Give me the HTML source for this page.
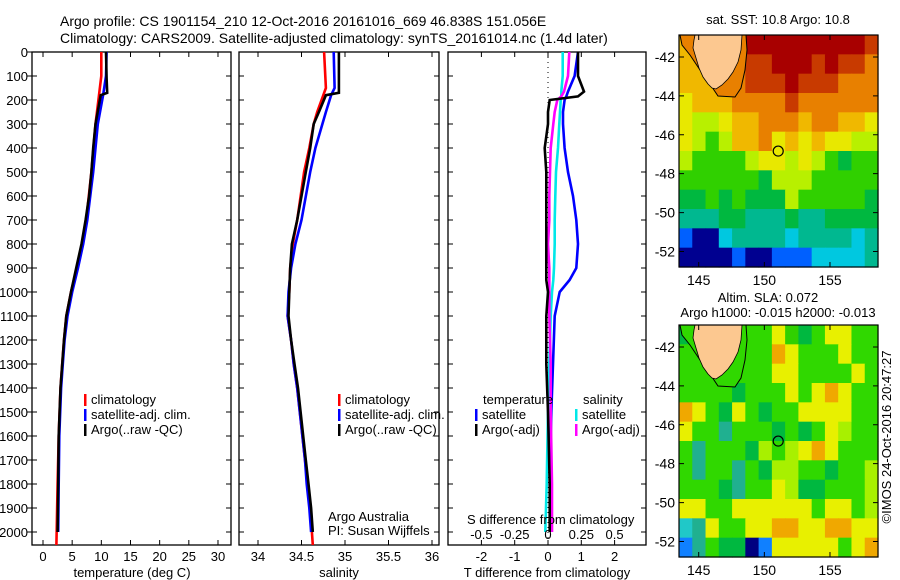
<!DOCTYPE html>
<html><head><meta charset="utf-8">
<style>
html,body{margin:0;padding:0;background:#fff;}
svg{display:block;font-family:"Liberation Sans",sans-serif;}
text{fill:#000;}
</style></head>
<body>
<svg id="fig" width="900" height="580" viewBox="0 0 900 580" xmlns="http://www.w3.org/2000/svg">
<text x="60" y="26" font-size="14">Argo profile: CS 1901154_210 12-Oct-2016 20161016_669 46.838S 151.056E</text>
<text x="60" y="43" font-size="14">Climatology: CARS2009. Satellite-adjusted climatology: synTS_20161014.nc (1.4d later)</text>
<g id="g1"></g>
<g id="g2"></g>
<g id="g3"></g>
<g id="m1"></g>
<g id="m2"></g>
<text x="778" y="24" font-size="13" text-anchor="middle">sat. SST: 10.8 Argo: 10.8</text>
<text x="768" y="302" font-size="13" text-anchor="middle">Altim. SLA: 0.072</text>
<text x="778" y="317" font-size="13" text-anchor="middle">Argo h1000: -0.015 h2000: -0.013</text>
<text transform="translate(891,437) rotate(-90)" font-size="13" text-anchor="middle">©IMOS 24-Oct-2016 20:47:27</text>
</svg>
<script>
// ---- data ----
const tClimDepth=[0,100,180,300,500,700,800,900,1000,1100,1200,1300,1400,1600,1800,2054];
const tClim=[10.0,10.0,9.6,9.0,8.3,7.4,6.7,5.8,4.8,4.0,3.6,3.3,3.0,2.7,2.5,2.3];
const tSatDepth=[0,100,180,300,500,700,800,900,1000,1100,1200,1300,1400,1600,1800,2000];
const tSat=[10.9,10.8,10.3,9.4,8.6,7.6,6.9,6.0,5.0,4.2,3.7,3.4,3.1,2.8,2.7,2.6];
const tArgoDepth=[0,110,170,180,300,400,500,600,700,800,900,1000,1100,1200,1400,1600,1800,2000];
const tArgo=[10.8,10.9,11.0,9.9,9.0,8.6,8.3,7.9,7.3,6.6,5.7,4.8,4.0,3.6,3.0,2.7,2.6,2.5];
const sClimDepth=[0,150,180,250,300,400,500,700,800,900,1000,1100,1200,1300,1400,1500,1600,1700,1800,1900,2000,2054];
const sClim=[34.76,34.78,34.75,34.68,34.64,34.59,34.53,34.45,34.40,34.37,34.36,34.34,34.38,34.41,34.45,34.48,34.51,34.54,34.57,34.60,34.62,34.63];
const sSatDepth=[0,150,180,250,300,400,500,700,800,900,1000,1100,1200,1300,1400,1500,1600,1700,1800,1900,2000];
const sSat=[34.87,34.88,34.84,34.78,34.74,34.66,34.60,34.50,34.43,34.38,34.35,34.34,34.38,34.41,34.45,34.48,34.51,34.54,34.56,34.59,34.61];
const sArgoDepth=[0,170,180,250,300,400,500,700,800,900,1000,1100,1200,1300,1400,1500,1600,1700,1800,1900,2000];
const sArgo=[34.93,34.93,34.78,34.70,34.64,34.60,34.55,34.45,34.39,34.37,34.36,34.35,34.38,34.42,34.46,34.49,34.52,34.55,34.58,34.61,34.63];
const dDepth=[0,100,165,185,200,250,300,400,500,600,700,800,900,950,1000,1100,1300,1500,1800,2000];
const dTSat=[0.9,0.8,0.6,0.55,0.5,0.45,0.45,0.5,0.6,0.75,0.85,0.9,0.85,0.65,0.35,0.2,0.15,0.1,0.05,0.1];
const dTArgo=[0.9,0.9,1.08,0.9,0.05,0.0,0.0,-0.1,-0.05,-0.05,-0.05,-0.05,-0.05,-0.05,0.0,-0.05,-0.05,0.0,0.05,0.05];
const dSSat=[0.11,0.11,0.1,0.1,0.095,0.09,0.085,0.075,0.06,0.055,0.05,0.05,0.045,0.04,0.03,0.02,0.01,0.0,-0.01,-0.02];
const dSArgo=[0.16,0.15,0.12,0.1,0.07,0.05,0.04,0.02,0.015,0.01,0.01,0.0,0.01,0.01,0.01,0.01,0.02,0.02,0.03,0.03];
const depthTicks=[0,100,200,300,400,500,600,700,800,900,1000,1100,1200,1300,1400,1500,1600,1700,1800,1900,2000];
const tTicks=[0,5,10,15,20,25,30];
const sTicks=[34,34.5,35,35.5,36];
const sTickLabels=['34','34.5','35','35.5','36'];
const dtTicks=[-2,-1,0,1,2];
const dsTicks=[-0.5,-0.25,0,0.25,0.5];
const dsTickLabels=['-0.5','-0.25','0','0.25','0.5'];
// ---- axes ----
const NS='http://www.w3.org/2000/svg';
const yD=d=>52+0.24*d;
const xT=v=>43+5.833*v;
const xS=v=>258+87*(v-34);
const xdT=v=>548+33.3*v;
const xdS=v=>548+133.2*v;
function mk(tag,attrs,parent){const e=document.createElementNS(NS,tag);for(const k in attrs)e.setAttribute(k,attrs[k]);parent.appendChild(e);return e;}
function txt(parent,x,y,s,anchor,size){const t=mk('text',{x:x,y:y,'font-size':size||13,'text-anchor':anchor||'start'},parent);t.textContent=s;return t;}
const panels=[{g:'g1',L:32,R:231},{g:'g2',L:239,R:439},{g:'g3',L:448,R:646}];
const TOP=52,BOT=545;
panels.forEach((p,i)=>{
  const g=document.getElementById(p.g);
  const cp=mk('clipPath',{id:'cp'+i},g);
  mk('rect',{x:p.L,y:TOP,width:p.R-p.L,height:BOT-TOP},cp);
  const box=mk('rect',{x:p.L,y:TOP,width:p.R-p.L,height:BOT-TOP,fill:'none',stroke:'#000','stroke-width':1.3},g);
  
  
  depthTicks.forEach(d=>{
    const y=yD(d);
    const a=mk('path',{d:`M${p.L} ${y}h5M${p.R} ${y}h-5`,stroke:'#000','stroke-width':1},g);
    
    
    if(i===0){
      mk('path',{d:`M${p.L-5} ${y}h5`,stroke:'#000'},g);
      const t=txt(g,28,y+5,String(d),'end');
      
      
    }
  });
});
function xticks(g,vals,labels,fx){
  vals.forEach((v,k)=>{
    const x=fx(v);
    const a=mk('path',{d:`M${x} ${TOP}v5M${x} ${BOT}v-5`,stroke:'#000'},g);
    
    
    const t=txt(g,x,561,labels[k],'middle');
    
    
  });
}
const G1=document.getElementById('g1'),G2=document.getElementById('g2'),G3=document.getElementById('g3');
xticks(G1,tTicks,tTicks.map(String),xT);
xticks(G2,sTicks,sTickLabels,xS);
xticks(G3,dtTicks,dtTicks.map(String),xdT);
let t;
t=txt(G1,132,577,'temperature (deg C)','middle');


t=txt(G2,339,577,'salinity','middle');


t=txt(G3,547,577,'T difference from climatology','middle');


function line(g,ci,depths,vals,fx,color,name){
  const pts=depths.map((d,k)=>fx(vals[k]).toFixed(1)+','+yD(d).toFixed(1)).join(' ');
  const pl=mk('polyline',{points:pts,fill:'none',stroke:color,'stroke-width':2.6,'clip-path':`url(#cp${ci})`},g);
  
  
}
line(G1,0,tClimDepth,tClim,xT,'#ff0000','temp-climatology-line');
line(G1,0,tSatDepth,tSat,xT,'#0000ff','temp-satellite-line');
line(G1,0,tArgoDepth,tArgo,xT,'#000','temp-argo-line');
line(G2,1,sClimDepth,sClim,xS,'#ff0000','sal-climatology-line');
line(G2,1,sSatDepth,sSat,xS,'#0000ff','sal-satellite-line');
line(G2,1,sArgoDepth,sArgo,xS,'#000','sal-argo-line');
const zl=mk('line',{x1:xdT(0),x2:xdT(0),y1:TOP,y2:BOT,stroke:'#000','stroke-dasharray':'1,4'},G3);


line(G3,2,dDepth,dSSat,xdS,'#00e8e8','sdiff-satellite-line');
line(G3,2,dDepth,dTSat,xdT,'#0000ff','tdiff-satellite-line');
line(G3,2,dDepth,dSArgo,xdS,'#ff00ff','sdiff-argo-line');
line(G3,2,dDepth,dTArgo,xdT,'#000','tdiff-argo-line');
// legends
function leg(g,mx,y,color,s){
  const m=mk('rect',{x:mx,y:y-10,width:2.5,height:12,fill:color},g);
  
  
  const tt=txt(g,mx+7,y,s);
  
  
}
leg(G1,84,404,'#f00','climatology');leg(G1,84,419,'#00f','satellite-adj. clim.');leg(G1,84,434,'#000','Argo(..raw -QC)');
leg(G2,338,404,'#f00','climatology');leg(G2,338,419,'#00f','satellite-adj. clim.');leg(G2,338,434,'#000','Argo(..raw -QC)');
t=txt(G3,483,404,'temperature');
t=txt(G3,583,404,'salinity');
leg(G3,475,419,'#00f','satellite');leg(G3,475,434,'#000','Argo(-adj)');
leg(G3,575,419,'#00e8e8','satellite');leg(G3,575,434,'#f0f','Argo(-adj)');
t=txt(G2,328,521,'Argo Australia');
t=txt(G2,328,535,'PI: Susan Wijffels');
t=txt(G3,467,524,'S difference from climatology');
dsTicks.forEach((v,k)=>{const tk=txt(G3,xdS(v),539,dsTickLabels[k],'middle');});
// ---- maps ----
const sstRows=['yooooDDDDDDDDDr','yyooorrDDDrDrro','yyyoorrrDrrrooo','Yyyyooooroooooo','YllYyyoooyooyyY','YlglyyoYyYyYYll','lgggglYYlYlgGgg','ggggggGlllggggg','GGgGgGGGlgggggG','tttGGtttGttGGGG','bnncttttcttttct','nnnnbnnbbbcccct'];
const slaRows=['GggggggYyGgYYgg','gggggggoYgggYgg','gggggggYYggggYg','ggggGgggYgYoYgg','oYgGYgGggYYYYgg','YggtgggGgGgYlgg','gtgggGlglYoYggg','gtggtgGllggGggl','gggGtggYlGGgggl','YYggYYYYYYgYYgl','ctYggYYooYYooYY','btgGGnbYYYYYgYo'];
const sstCol={D:'#a80000',r:'#c83a00',o:'#e88000',y:'#f0b800',Y:'#e8e800',l:'#b8f000',g:'#30d000',G:'#00b840',t:'#00b890',c:'#00c8e0',b:'#0060ff',n:'#000090'};
const slaCol={G:'#00b840',g:'#30d800',l:'#a8f000',Y:'#e8f000',o:'#f0a800',t:'#20b090',c:'#20c8c8',b:'#1080ff',n:'#000080'};
const lonTicks=[145,150,155];
const latTicks=[-42,-44,-46,-48,-50,-52];
const argoLon=151.056, argoLat=-46.838;
const mLon=v=>679+(v-143.5)*13.13;
const mLat=v=>35+(-40.87-v)*19.45;
function drawMap(id,dy,rows,cols,bandColor){
  const g=document.getElementById(id);
  g.setAttribute('transform',`translate(0,${dy})`);
  const cw=199/15,ch=232/12;
  rows.forEach((r,ri)=>{for(let ci=0;ci<15;ci++){
    const c=mk('rect',{x:(679+ci*cw).toFixed(2),y:(35+ri*ch).toFixed(2),width:(cw+0.6).toFixed(2),height:(ch+0.6).toFixed(2),fill:cols[r[ci]]||'#30d000'},g);
    
    
  }});
  const band=mk('polygon',{points:'680,35 682,45 690,55 700,70 710,84 718,96 735,97 741,88 745,70 747,50 746,35',fill:bandColor,stroke:'#000','stroke-width':1},g);
  
  
  const land=mk('polygon',{points:'695,35 742,35 741,50 738,62 733,72 728,79 722,85 716,89 712,88 708,84 703,77 699,68 696,58 693,48 694,40',fill:'#fcc890',stroke:'#000','stroke-width':0.8},g);
  
  
  const fr=mk('rect',{x:679,y:35,width:199,height:232,fill:'none',stroke:'#000','stroke-width':1.2},g);
  
  
  lonTicks.forEach(v=>{const x=mLon(v);mk('path',{d:`M${x} 35v5M${x} 267v-5`,stroke:'#000'},g);
    const l=txt(g,x,285,String(v),'middle',14);});
  latTicks.forEach(v=>{const y=mLat(v);mk('path',{d:`M679 ${y}h5M878 ${y}h-5`,stroke:'#000'},g);
    const l=txt(g,675,y+5,String(v),'end',14);});
  const pt=mk('circle',{cx:mLon(argoLon),cy:mLat(argoLat),r:5,fill:'none',stroke:'#000','stroke-width':1.2},g);
  
  
}
drawMap('m1',0,sstRows,sstCol,'#e88000');
drawMap('m2',290,slaRows,slaCol,'#30d800');
</script>
</body></html>
